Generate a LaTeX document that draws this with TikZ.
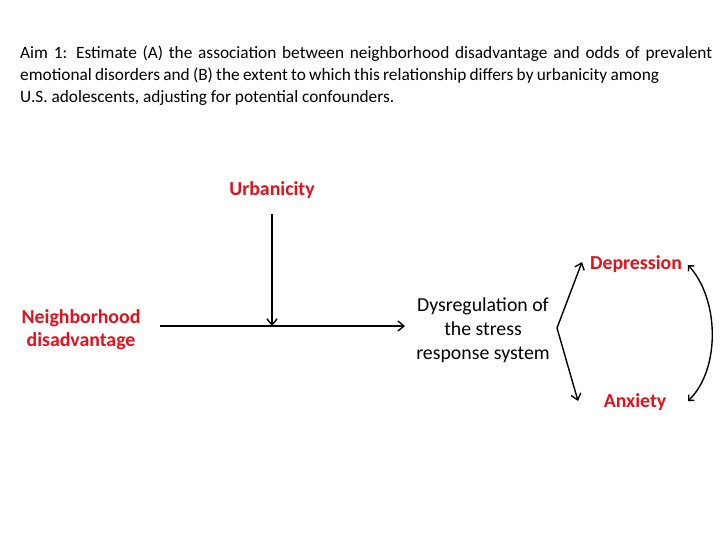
\documentclass[tikz,border=0pt]{standalone}
\usepackage{fontspec}
\setmainfont{Carlito}
\usetikzlibrary{arrows.meta}
\definecolor{labred}{RGB}{226,18,28}
\begin{document}
\begin{tikzpicture}[x=1pt,y=-1pt,
  lab/.style={font=\fontsize{19.8}{23}\selectfont\bfseries, text=labred, align=center, inner sep=0pt},
  plain/.style={font=\fontsize{19.8}{24}\selectfont, align=center, inner sep=0pt},
  conn/.style={line width=1.4pt, -{Straight Barb[length=6pt,width=10pt]}}]
\useasboundingbox (0,0) rectangle (720,540);
\node[font=\fontsize{17.3}{22}\selectfont, align=left, anchor=north west, inner sep=0pt] (aim) at (20,46)
 {\hbox to 692pt{Aim 1: Estimate (A) the association between neighborhood disadvantage and odds of prevalent}\\\hbox to 639pt{emotional disorders and (B) the extent to which this relationship differs by urbanicity among}\\U.S.\ adolescents, adjusting for potential confounders.};
\node[lab] (urb) at (272,190) {Urbanicity};
\node[lab] (nd) at (81,330) {Neighborhood\\disadvantage};
\node[plain] (dys) at (483,330) {Dysregulation of\\the stress\\response system};
\node[lab] (dep) at (636,264) {Depression};
\node[lab] (anx) at (635,402) {Anxiety};
\coordinate (s) at (160,326);
\coordinate (e) at (405,326);
\coordinate (m) at (272,326);
\coordinate (t) at (272,214);
\coordinate (f) at (557,328);
\coordinate (fu) at (582,262);
\coordinate (fd) at (578,401);
\coordinate (bt) at (688,265);
\coordinate (bb) at (688,401);
\draw[conn] (s) -- (e);
\draw[conn] (t) -- (m);
\draw[conn] (f) -- (fu);
\draw[conn] (f) -- (fd);
\draw[line width=1.4pt, {Straight Barb[length=4pt,width=8pt]}-{Straight Barb[length=4pt,width=8pt]}] (bt) .. controls (720,300) and (720,370) .. (bb);
\end{tikzpicture}
\end{document}
